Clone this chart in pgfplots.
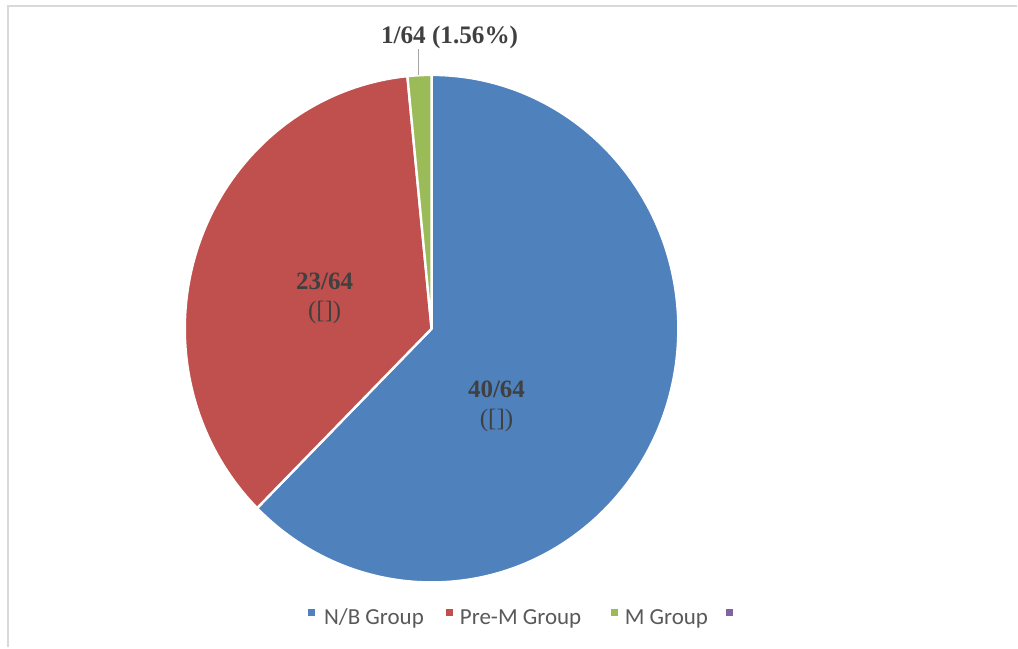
\documentclass[border=0pt]{standalone}
\usepackage{pgfplots}
\pgfplotsset{compat=1.18}
\usepackage{pgfplotstable}
\usepackage{fontspec}
\setmainfont{Liberation Serif}
\newfontfamily\legfont{Carlito}
\definecolor{cNB}{HTML}{4F81BD}
\definecolor{cPM}{HTML}{C0504D}
\definecolor{cM}{HTML}{9BBB59}
\definecolor{cX}{HTML}{8064A2}
\definecolor{lbl}{HTML}{404040}
\definecolor{legtxt}{HTML}{595959}
\definecolor{frame}{HTML}{D9D9D9}
\definecolor{leader}{HTML}{A6A6A6}

\pgfplotstableread{
group value
NB 40
PreM 23
M 1
}\piedata

\begin{document}
\begin{tikzpicture}
\pgfplotstablegetelem{0}{value}\of\piedata \let\va\pgfplotsretval
\pgfplotstablegetelem{1}{value}\of\piedata \let\vb\pgfplotsretval
\pgfplotstablegetelem{2}{value}\of\piedata \let\vc\pgfplotsretval
\pgfmathsetmacro\total{\va+\vb+\vc}
\pgfmathsetmacro\aA{90}
\pgfmathsetmacro\aB{\aA-360*\va/\total}
\pgfmathsetmacro\aC{\aB-360*\vb/\total}
\pgfmathsetmacro\aD{\aC-360*\vc/\total}
\begin{axis}[
  scale only axis, width=509pt, height=324pt,
  xmin=0, xmax=1018, ymin=0, ymax=648,
  hide axis, clip=false,
]
\addplot[draw=none] coordinates {(0,0) (1018,648)};
% frame
\draw[frame, line width=1pt] (axis cs:1018,642) -- (axis cs:8,642) -- (axis cs:8,0);
% slices
\def\cx{432}\def\cy{319}\def\rx{247}\def\ry{254}
\fill[cNB, draw=white, line width=1.2pt, line join=round]
  (axis cs:\cx,\cy) -- (axis cs:{\cx+\rx*cos(\aA)},{\cy+\ry*sin(\aA)})
  arc[start angle=\aA, end angle=\aB, x radius=123.5pt, y radius=127pt] -- cycle;
\fill[cPM, draw=white, line width=1.2pt, line join=round]
  (axis cs:\cx,\cy) -- (axis cs:{\cx+\rx*cos(\aB)},{\cy+\ry*sin(\aB)})
  arc[start angle=\aB, end angle=\aC, x radius=123.5pt, y radius=127pt] -- cycle;
\fill[cM, draw=white, line width=1.2pt, line join=round]
  (axis cs:\cx,\cy) -- (axis cs:{\cx+\rx*cos(\aC)},{\cy+\ry*sin(\aC)})
  arc[start angle=\aC, end angle=\aD, x radius=123.5pt, y radius=127pt] -- cycle;
% labels
\draw[leader, line width=0.7pt] (axis cs:419,599) -- (axis cs:419,573);
\node[anchor=base, text=lbl, font=\fontsize{12.6}{15}\selectfont\bfseries, inner sep=0pt]
  at (axis cs:450,604.5) {1/64 (1.56\%)};
\node[anchor=base, text=lbl, font=\fontsize{12.5}{15}\selectfont\bfseries, inner sep=0pt]
  at (axis cs:497,250) {40/64};
\node[anchor=base, text=lbl, font=\fontsize{12.5}{15}\selectfont, inner sep=0pt]
  at (axis cs:497,221) {([])};
\node[anchor=base, text=lbl, font=\fontsize{12.5}{15}\selectfont\bfseries, inner sep=0pt]
  at (axis cs:325,358) {23/64};
\node[anchor=base, text=lbl, font=\fontsize{12.5}{15}\selectfont, inner sep=0pt]
  at (axis cs:325,329) {([])};
% legend
\fill[cNB] (axis cs:308,31) rectangle (axis cs:315,38);
\node[anchor=base west, text=legtxt, font=\legfont\fontsize{11.5}{13}\selectfont, inner sep=0pt]
  at (axis cs:324,23) {N/B Group};
\fill[cPM] (axis cs:446.5,31) rectangle (axis cs:453.5,38);
\node[anchor=base west, text=legtxt, font=\legfont\fontsize{11.5}{13}\selectfont, inner sep=0pt]
  at (axis cs:460,23) {Pre-M Group};
\fill[cM] (axis cs:611.5,31) rectangle (axis cs:618.5,38);
\node[anchor=base west, text=legtxt, font=\legfont\fontsize{11.5}{13}\selectfont, inner sep=0pt]
  at (axis cs:625,23) {M Group};
\fill[cX] (axis cs:726.5,31) rectangle (axis cs:733.5,38);
\end{axis}
\end{tikzpicture}
\end{document}
